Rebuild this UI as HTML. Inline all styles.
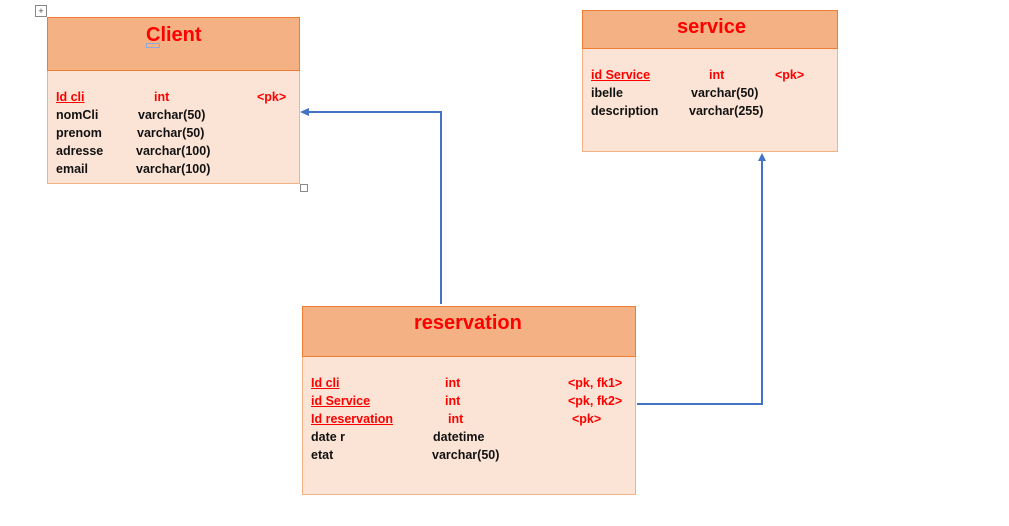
<!DOCTYPE html>
<html><head><meta charset="utf-8"><style>
body{margin:0;width:1009px;height:526px;background:#fff;position:relative;overflow:hidden;font-family:"Liberation Sans",Arial,sans-serif;}
.box{position:absolute;background:#fbe4d6;border:1px solid #f4b183;box-sizing:border-box;}
.hd{position:absolute;left:0;top:0;right:0;background:#f4b183;border-bottom:1.5px solid #ed7d31;box-sizing:border-box;border:1px solid #ed7d31;margin:-1px;}
.t{position:absolute;font-weight:bold;font-size:12.5px;line-height:16px;color:#111;white-space:nowrap;}
.r{color:#ff0000;}
.u{text-decoration:underline;}
.ti{position:absolute;font-weight:bold;font-size:20px;color:#ff0000;white-space:nowrap;line-height:24px;}
</style></head><body>
<div style="position:absolute;left:35px;top:5px;width:10px;height:10px;border:1px solid #888;font-size:9px;line-height:10px;text-align:center;color:#444">+</div>
<div style="position:absolute;left:300px;top:184px;width:6px;height:6px;border:1px solid #888"></div>

<div class="box" style="left:47px;top:17px;width:253px;height:167px"><div class="hd" style="height:54px"></div></div>
<div class="ti" style="left:146px;top:23px">Client</div>
<div style="position:absolute;left:146px;top:43px;width:12px;height:3px;border:1px solid #8ea9db"></div>
<div class="t r u" style="left:56px;top:89px">Id cli</div>
<div class="t r" style="left:154px;top:89px">int</div>
<div class="t r" style="left:257px;top:89px">&lt;pk&gt;</div>
<div class="t" style="left:56px;top:107px">nomCli</div><div class="t" style="left:138px;top:107px">varchar(50)</div>
<div class="t" style="left:56px;top:125px">prenom</div><div class="t" style="left:137px;top:125px">varchar(50)</div>
<div class="t" style="left:56px;top:143px">adresse</div><div class="t" style="left:136px;top:143px">varchar(100)</div>
<div class="t" style="left:56px;top:161px">email</div><div class="t" style="left:136px;top:161px">varchar(100)</div>

<div class="box" style="left:582px;top:10px;width:256px;height:142px"><div class="hd" style="height:39px"></div></div>
<div class="ti" style="left:677px;top:15px">service</div>
<div class="t r u" style="left:591px;top:67px">id Service</div>
<div class="t r" style="left:709px;top:67px">int</div>
<div class="t r" style="left:775px;top:67px">&lt;pk&gt;</div>
<div class="t" style="left:591px;top:85px">ibelle</div><div class="t" style="left:691px;top:85px">varchar(50)</div>
<div class="t" style="left:591px;top:103px">description</div><div class="t" style="left:689px;top:103px">varchar(255)</div>

<div class="box" style="left:302px;top:306px;width:334px;height:189px"><div class="hd" style="height:51px"></div></div>
<div class="ti" style="left:414px;top:311px">reservation</div>
<div class="t r u" style="left:311px;top:375px">Id cli</div><div class="t r" style="left:445px;top:375px">int</div><div class="t r" style="left:568px;top:375px">&lt;pk, fk1&gt;</div>
<div class="t r u" style="left:311px;top:393px">id Service</div><div class="t r" style="left:445px;top:393px">int</div><div class="t r" style="left:568px;top:393px">&lt;pk, fk2&gt;</div>
<div class="t r u" style="left:311px;top:411px">Id reservation</div><div class="t r" style="left:448px;top:411px">int</div><div class="t r" style="left:572px;top:411px">&lt;pk&gt;</div>
<div class="t" style="left:311px;top:429px">date r</div><div class="t" style="left:433px;top:429px">datetime</div>
<div class="t" style="left:311px;top:447px">etat</div><div class="t" style="left:432px;top:447px">varchar(50)</div>

<svg style="position:absolute;left:0;top:0" width="1009" height="526">
<g stroke="#4472c4" stroke-width="2" fill="none">
<polyline points="441,304 441,112 306,112"/>
<polyline points="637,404 762,404 762,160"/>
</g>
<polygon points="300,112 309,108 309,116" fill="#4472c4"/>
<polygon points="762,153 758,161 766,161" fill="#4472c4"/>
</svg>
</body></html>
